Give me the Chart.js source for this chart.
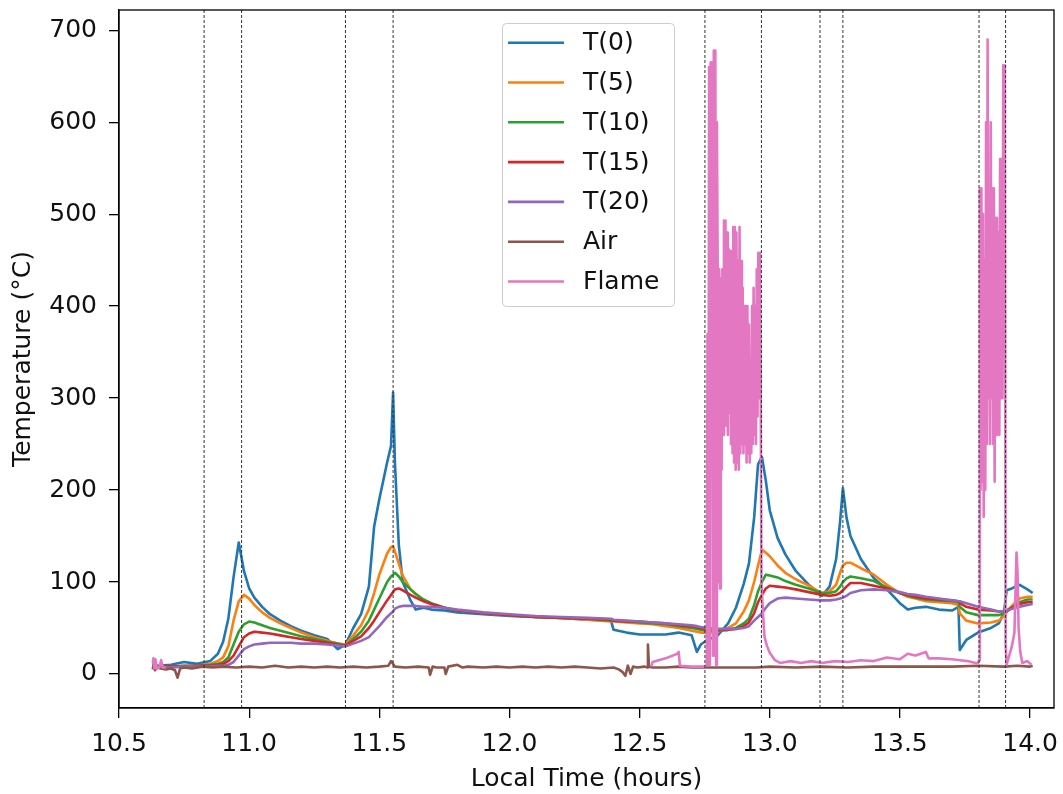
<!DOCTYPE html>
<html>
<head>
<meta charset="utf-8">
<script src="https://cdn.jsdelivr.net/npm/chart.js@4.4.0/dist/chart.umd.min.js"></script>
<style>
  body { margin: 0; background: #fff; }
  #wrap { width: 1063px; height: 794px; }
</style>
</head>
<body>
<div id="wrap"><canvas id="grafico" width="1063" height="794"></canvas></div>
<script>
// shared time base (hours) for the thermocouples
const tempoT = [10.63, 10.65, 10.70, 10.75, 10.80, 10.85, 10.88, 10.90, 10.92, 10.94,
  10.96, 10.98, 11.00, 11.02, 11.05, 11.08, 11.12, 11.16, 11.20, 11.25,
  11.30, 11.34, 11.37, 11.40, 11.43, 11.46, 11.48, 11.50, 11.53, 11.545,
  11.553, 11.56, 11.575, 11.59, 11.62, 11.64, 11.67, 11.70, 11.75, 11.80,
  11.90, 12.00, 12.10, 12.20, 12.30, 12.39, 12.40, 12.45, 12.50, 12.55,
  12.60, 12.65, 12.70, 12.72, 12.735, 12.76, 12.80, 12.84, 12.87, 12.90,
  12.92, 12.94, 12.955, 12.97, 12.985, 13.00, 13.03, 13.06, 13.10, 13.15,
  13.20, 13.23, 13.255, 13.27, 13.281, 13.295, 13.31, 13.35, 13.40, 13.45,
  13.50, 13.53, 13.56, 13.60, 13.65, 13.70, 13.725, 13.73, 13.755, 13.80,
  13.85, 13.88, 13.90, 13.91, 13.93, 13.96, 13.99, 14.01]
const t0 = [10, 9, 10, 13, 11, 14, 22, 35, 60, 105,
  143, 112, 93, 83, 73, 65, 58, 52, 47, 42,
  38, 27, 32, 50, 65, 95, 160, 190, 230, 248,
  306, 230, 140, 100, 80, 70, 72, 70, 69, 67,
  65, 63, 62, 61, 59, 58, 48, 45, 43, 43,
  43, 45, 42, 24, 32, 37, 42, 55, 72, 98,
  120, 170, 228, 236, 210, 178, 148, 130, 112, 97,
  85, 95, 125, 165, 202, 170, 150, 125, 104, 92,
  77, 70, 72, 73, 70, 69, 73, 26, 37, 45,
  50, 55, 67, 91, 93, 97, 92, 88]
const t5 = [8, 8, 8, 9, 9, 11, 14, 18, 30, 58,
  79, 86, 82, 75, 67, 61, 55, 50, 45, 40,
  36, 33, 32, 42, 53, 70, 88, 108, 131, 138,
  139, 133, 120, 107, 92, 87, 80, 76, 72, 69,
  66, 64, 62, 61, 59, 57, 57, 56, 55, 54,
  52, 50, 47, 46, 45, 45, 46, 50, 55, 68,
  80, 100, 118, 135, 132, 128, 118, 110, 103, 96,
  88, 90, 97, 110, 118, 121, 121, 115, 108, 97,
  88, 84, 82, 79, 78, 77, 75, 66, 58, 55,
  56, 58, 63, 67, 74, 82, 84, 84]
const t10 = [8, 8, 8, 9, 9, 10, 11, 13, 18, 32,
  46, 54, 57, 56, 53, 50, 47, 44, 41, 38,
  35, 33, 31, 38, 46, 58, 70, 82, 100, 106,
  108, 110, 106, 100, 92, 87, 81, 77, 72, 69,
  66, 64, 62, 61, 60, 58, 58, 57, 56, 55,
  54, 52, 50, 49, 48, 47, 47, 48, 50, 55,
  60, 75, 90, 100, 108, 107, 105, 101, 97, 93,
  88, 88, 90, 95, 100, 104, 106, 104, 101, 94,
  88, 85, 83, 81, 80, 79, 78, 73, 67, 64,
  64, 64, 66, 68, 72, 78, 81, 81]
const t15 = [7, 8, 8, 8, 9, 9, 10, 11, 14, 20,
  30, 40, 44, 46, 45, 44, 42, 40, 38, 36,
  34, 32, 31, 36, 41, 50, 58, 67, 80, 86,
  89, 92, 93, 91, 86, 83, 79, 76, 72, 69,
  66, 64, 62, 61, 60, 59, 58, 57, 57, 56,
  55, 53, 52, 51, 50, 49, 48, 48, 49, 52,
  56, 66, 78, 86, 93, 96, 95, 94, 92, 89,
  86, 85, 86, 88, 91, 95, 99, 99, 96, 93,
  88, 86, 84, 82, 81, 80, 79, 77, 73, 70,
  69, 68, 68, 69, 72, 76, 78, 78]
const t20 = [6, 7, 7, 8, 8, 8, 9, 9, 10, 13,
  20, 27, 30, 32, 33, 34, 34, 34, 33, 33,
  32, 31, 30, 33, 36, 40, 46, 52, 62, 66,
  68, 71, 73, 74, 74, 74, 73, 73, 72, 70,
  67, 65, 63, 62, 61, 60, 59, 58, 57, 56,
  55, 54, 53, 52, 51, 50, 49, 49, 49, 50,
  52, 58, 62, 66, 72, 77, 82, 83, 82, 81,
  80, 80, 81, 82, 83, 85, 88, 91, 92, 91,
  89, 87, 86, 84, 82, 80, 79, 79, 77, 73,
  70, 68, 68, 69, 71, 73, 75, 76]

// air temperature
const tempoAr = [10.63, 10.634, 10.638, 10.645, 10.66, 10.68, 10.70, 10.715, 10.725, 10.735,
  10.75, 10.78, 10.82, 10.86, 10.9, 10.95, 11.0, 11.05, 11.1, 11.15,
  11.2, 11.25, 11.3, 11.35, 11.4, 11.45, 11.5, 11.535, 11.545, 11.56,
  11.6, 11.65, 11.69, 11.695, 11.705, 11.72, 11.75, 11.755, 11.765, 11.8,
  11.82, 11.84, 11.9, 11.95, 12.0, 12.05, 12.1, 12.15, 12.2, 12.25,
  12.3, 12.35, 12.4, 12.42, 12.435, 12.445, 12.455, 12.465, 12.475, 12.49,
  12.52, 12.53, 12.532, 12.536, 12.55, 12.6, 12.65, 12.7, 12.75, 12.8,
  12.85, 12.9, 12.95, 13.0, 13.1, 13.2, 13.3, 13.4, 13.5, 13.6,
  13.7, 13.8, 13.9, 13.95, 14.0, 14.01]
const ar = [5, 13, 4, 7, 6, 5, 6, 4, -4, 6,
  7, 6, 8, 7, 8, 7, 8, 7, 9, 7,
  8, 7, 8, 7, 8, 7, 8, 9, 14, 8,
  7, 8, 7, -1, 8, 7, 7, 0, 8, 10,
  7, 8, 7, 8, 7, 8, 7, 8, 7, 8,
  7, 6, 7, 5, 2, -2, 9, 0, 8, 7,
  8, 7, 32, 8, 7, 7, 8, 7, 7, 7,
  7, 7, 7, 8, 7, 8, 7, 8, 8, 8,
  8, 9, 8, 9, 8, 9]

// flame thermocouple (null = no reading)
const tempoChama = [10.63, 10.632, 10.636, 10.64, 10.645, 10.655, 10.662, 10.668, 10.68, 10.69,
  12.545, 12.55, 12.6, 12.645, 12.65, 12.655, 12.7, 12.75, 12.758,
  12.761, 12.764, 12.767, 12.770, 12.773, 12.776, 12.779, 12.782, 12.785, 12.788,
  12.791, 12.794, 12.797, 12.800, 12.803, 12.806, 12.809, 12.812, 12.815, 12.818,
  12.821, 12.824, 12.827, 12.830, 12.833, 12.836, 12.839, 12.842, 12.845, 12.848,
  12.851, 12.854, 12.857, 12.860, 12.863, 12.866, 12.869, 12.872, 12.875, 12.878,
  12.881, 12.884, 12.887, 12.890, 12.893, 12.896, 12.899, 12.902, 12.905, 12.908,
  12.911, 12.914, 12.917, 12.920, 12.923, 12.926, 12.929, 12.932, 12.935, 12.938,
  12.941, 12.944, 12.947, 12.950, 12.953, 12.956, 12.959, 12.962, 12.965, 12.968,
  12.974, 12.98, 12.99, 13.0, 13.02, 13.04, 13.08, 13.12, 13.16, 13.2,
  13.25, 13.3, 13.35, 13.4, 13.45, 13.5, 13.53, 13.56, 13.6, 13.61,
  13.65, 13.7, 13.73, 13.76, 13.79, 13.8, 13.804,
  13.807, 13.810, 13.813, 13.816, 13.819, 13.822, 13.825, 13.828, 13.831, 13.834,
  13.837, 13.840, 13.843, 13.846, 13.849, 13.852, 13.855, 13.858, 13.861, 13.864,
  13.867, 13.870, 13.873, 13.876, 13.879, 13.882, 13.885, 13.888, 13.891, 13.894,
  13.897, 13.900, 13.903, 13.906,
  13.91, 13.92, 13.93, 13.94, 13.948, 13.952, 13.956, 13.962, 13.97, 13.99, 14.005]
const chama = [12, 17, 6, 16, 6, 7, 15, 7, 7, null,
  8, 13, 17, 22, 24, 9, 8, 8, 10,
  370, 10, 660, 10, 665, 300, 665, 20, 678, 200,
  678, 10, 600, 444, 100, 440, 93, 430, 222, 440,
  260, 493, 280, 493, 270, 480, 260, 462, 284, 460,
  250, 440, 240, 486, 230, 486, 222, 480, 230, 449,
  222, 486, 240, 449, 250, 420, 240, 400, 250, 400,
  230, 400, 240, 380, 230, 330, 240, 400, 250, 420,
  260, 400, 250, 440, 280, 458, 300, 458, 330, 100,
  66, 40, 30, 23, 15, 12, 14, 12, 14, 12,
  14, 13, 15, 14, 18, 16, 22, 20, 24, 17,
  17, 16, 15, 14, 12, 12, 15,
  528, 200, 528, 209, 500, 171, 450, 200, 600, 250,
  690, 300, 505, 250, 600, 300, 528, 250, 528, 209,
  496, 260, 496, 300, 480, 260, 560, 300, 450, 300,
  662, 400, 662, 33,
  10, 20, 30, 45, 132, 110, 50, 25, 12, 14, 10]

// dashed vertical markers
const eventos = [10.827, 10.971, 11.37, 11.553, 12.751, 12.968, 13.193, 13.281, 13.804, 13.906]

const ticksX = [10.5, 11.0, 11.5, 12.0, 12.5, 13.0, 13.5, 14.0]
const ticksY = [0, 100, 200, 300, 400, 500, 600, 700]
const xMin = 10.5, xMax = 14.092
const yMin = -37, yMax = 722

Chart.defaults.font.family = "'DejaVu Sans', sans-serif"
Chart.defaults.font.size = 25
Chart.defaults.color = '#111'

const pares = (xs, ys) => xs.map((x, i) => ({ x: x, y: ys[i] }))

const linha = (label, xs, ys, cor, ordem) => ({
  label: label,
  data: pares(xs, ys),
  borderColor: cor,
  backgroundColor: cor,
  borderWidth: 2.6,
  pointRadius: 0,
  tension: 0,
  fill: false,
  spanGaps: false,
  borderJoinStyle: 'round',
  order: ordem
})

const series = [
  linha('T(0)', tempoT, t0, '#1f77b4', 8),
  linha('T(5)', tempoT, t5, '#ff7f0e', 7),
  linha('T(10)', tempoT, t10, '#2ca02c', 6),
  linha('T(15)', tempoT, t15, '#d62728', 5),
  linha('T(20)', tempoT, t20, '#9467bd', 4),
  linha('Air', tempoAr, ar, '#8c564b', 3),
  linha('Flame', tempoChama, chama, '#e377c2', 2)
]

const linhasEventos = {
  label: '',
  data: eventos.flatMap(t => [{ x: t, y: yMin }, { x: t, y: yMax }, { x: t, y: null }]),
  borderColor: '#333',
  borderWidth: 1,
  borderDash: [3, 2],
  pointRadius: 0,
  spanGaps: false,
  fill: false,
  order: 1
}

// frame and legend box drawn like the original figure
const molduraLegenda = {
  id: 'molduraLegenda',
  afterDraw(chart) {
    const ctx = chart.ctx
    const a = chart.chartArea
    ctx.save()
    ctx.strokeStyle = '#000'
    ctx.lineWidth = 1.3
    ctx.strokeRect(a.left, a.top, a.right - a.left, a.bottom - a.top)

    const x0 = 502, y0 = 23, w = 172, h = 283
    ctx.fillStyle = 'rgba(255,255,255,0.8)'
    ctx.strokeStyle = '#cccccc'
    ctx.lineWidth = 1
    ctx.beginPath()
    ctx.roundRect(x0 + 0.5, y0 + 0.5, w, h, 4)
    ctx.fill()
    ctx.stroke()

    ctx.font = "25px 'DejaVu Sans', sans-serif"
    ctx.textBaseline = 'middle'
    ctx.textAlign = 'left'
    series.forEach((ds, i) => {
      const y = 42.7 + i * 39.8
      ctx.strokeStyle = ds.borderColor
      ctx.lineWidth = 2.6
      ctx.beginPath()
      ctx.moveTo(508, y)
      ctx.lineTo(564, y)
      ctx.stroke()
      ctx.fillStyle = '#111'
      ctx.fillText(ds.label, 583, y + 1)
    })
    ctx.restore()
  }
}

const chart = new Chart(document.getElementById('grafico'), {
  type: 'line',
  data: { datasets: [...series, linhasEventos] },
  options: {
    responsive: false,
    animation: false,
    events: [],
    layout: { autoPadding: false, padding: { left: 0, right: 9, top: 10, bottom: 0 } },
    plugins: { legend: { display: false }, tooltip: { enabled: false } },
    scales: {
      x: {
        type: 'linear',
        min: xMin,
        max: xMax,
        afterBuildTicks: axis => { axis.ticks = ticksX.map(v => ({ value: v })) },
        afterFit: axis => { axis.height = 86; axis.paddingLeft = 0; axis.paddingRight = 0 },
        ticks: { callback: v => v.toFixed(1), padding: 11, maxRotation: 0, autoSkip: false, color: '#111' },
        grid: { display: true, drawOnChartArea: false, drawTicks: true, tickLength: 10, color: '#000', lineWidth: 1.3 },
        border: { display: true, color: '#000', width: 1.3 },
        title: { display: true, text: 'Local Time (hours)', color: '#111', padding: { top: 0, bottom: 0 } }
      },
      y: {
        type: 'linear',
        min: yMin,
        max: yMax,
        afterBuildTicks: axis => { axis.ticks = ticksY.map(v => ({ value: v })) },
        afterFit: axis => { axis.width = 119; axis.paddingTop = 0; axis.paddingBottom = 0 },
        ticks: { callback: v => String(v), padding: 12, autoSkip: false, color: '#111' },
        grid: { display: true, drawOnChartArea: false, drawTicks: true, tickLength: 10, color: '#000', lineWidth: 1.3 },
        border: { display: true, color: '#000', width: 1.3 },
        title: { display: true, text: 'Temperature (°C)', color: '#111', padding: { top: 8, bottom: 0 } }
      }
    }
  },
  plugins: [molduraLegenda]
})
</script>
</body>
</html>
